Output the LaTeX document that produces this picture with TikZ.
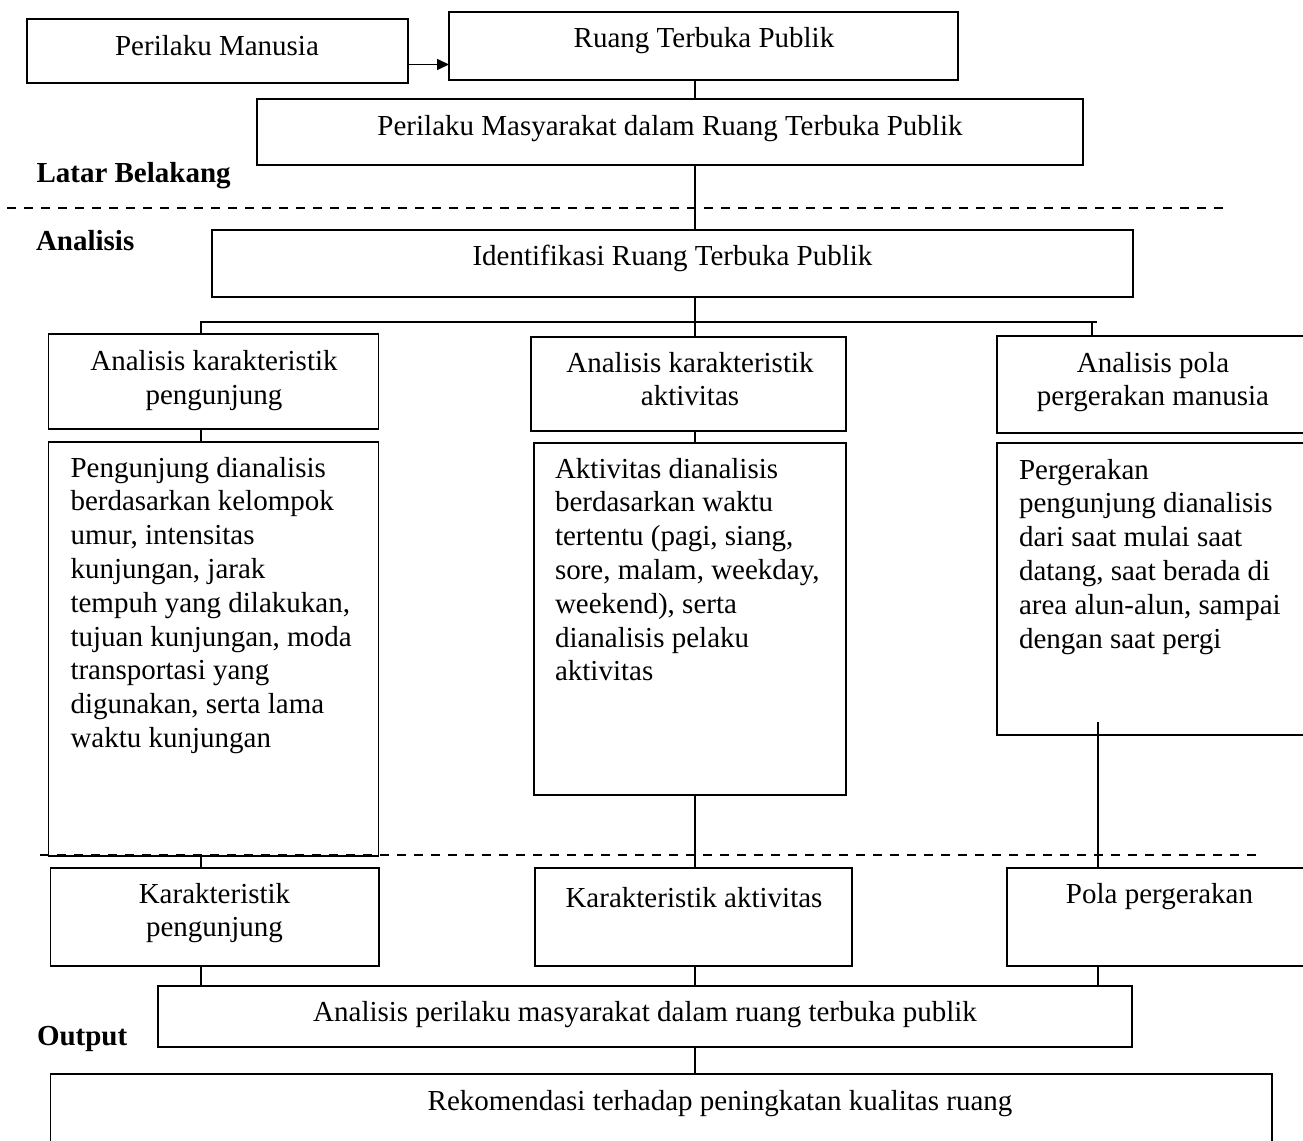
\documentclass[tikz,border=0pt]{standalone}
\usepackage{fontspec}
\setmainfont{Liberation Serif}
\usetikzlibrary{arrows.meta}
\newcommand\mybox[5]{\node[boxst, minimum width=#4pt, minimum height=#5pt, anchor=north west] (#1) at (#2,#3) {};}
\newcommand\mlc[2]{\parbox[t]{#1pt}{\centering #2}}
\newcommand\mll[2]{\parbox[t]{#1pt}{\raggedright #2}}
\begin{document}
\begin{tikzpicture}[x=1pt,y=-1pt,
  boxst/.style={draw, line width=1.8pt, rectangle, inner sep=0pt, outer sep=0pt},
  txt/.style={inner sep=0pt, outer sep=0pt, font=\fontsize{29}{33.8}\selectfont},
  lbl/.style={txt, font=\fontsize{29}{33.8}\selectfont\bfseries, anchor=base west},
  conn/.style={line width=1.6pt},
  dashln/.style={line width=1.4pt, dash pattern=on 9pt off 8pt}]
\useasboundingbox (0,0) rectangle (1303,1140);
\clip (0,0) rectangle (1303,1140);
\fill[white] (0,0) rectangle (1303,1140);

% boxes
\mybox{pm1}{27}{19}{381}{64}
\mybox{ruang}{449}{12}{509}{68}
\mybox{pmas}{257}{99}{826}{66}
\mybox{ident}{212}{230}{921}{67}
\mybox{a1}{48.5}{334}{330}{95}
\mybox{a2}{531}{337}{315}{94}
\mybox{a3}{997}{336}{313}{97}
\mybox{d1}{48.5}{442}{330}{414}
\mybox{d2}{534}{443}{312}{352}
\mybox{d3}{997}{443}{313}{292}
\mybox{k1}{50.5}{868}{328.5}{98}
\mybox{k2}{535}{868}{317}{98}
\mybox{k3}{1007}{868}{305}{98}
\mybox{ap}{158}{986}{974}{61}
\mybox{rek}{50.5}{1074}{1221.5}{90}

% texts
\node[txt, anchor=base] (tpm1) at (217,56) {Perilaku Manusia};
\node[txt, anchor=base] (truang) at (704,48) {Ruang Terbuka Publik};
\node[txt, anchor=base] (tpmas) at (670,135.5) {Perilaku Masyarakat dalam Ruang Terbuka Publik};
\node[txt, anchor=base] (tident) at (672.5,265) {Identifikasi Ruang Terbuka Publik};
\node[txt, anchor=base] (ta1) at (214,370.5) {\mlc{320}{Analisis karakteristik\\pengunjung}};
\node[txt, anchor=base] (ta2) at (690,372) {\mlc{310}{Analisis karakteristik\\aktivitas}};
\node[txt, anchor=base] (ta3) at (1153,372) {\mlc{310}{Analisis pola\\pergerakan manusia}};
\node[txt, anchor=base west] (td1) at (70.5,477) {\mll{330}{Pengunjung dianalisis\\berdasarkan kelompok\\umur, intensitas\\kunjungan, jarak\\tempuh yang dilakukan,\\tujuan kunjungan, moda\\transportasi yang\\digunakan, serta lama\\waktu kunjungan}};
\node[txt, anchor=base west] (td2) at (555,478) {\mll{330}{Aktivitas dianalisis\\berdasarkan waktu\\tertentu (pagi, siang,\\sore, malam, weekday,\\weekend), serta\\dianalisis pelaku\\aktivitas}};
\node[txt, anchor=base west] (td3) at (1019,479) {\mll{330}{Pergerakan\\pengunjung dianalisis\\dari saat mulai saat\\datang, saat berada di\\area alun-alun, sampai\\dengan saat pergi}};
\node[txt, anchor=base] (tk1) at (214.5,903) {\mlc{320}{Karakteristik\\pengunjung}};
\node[txt, anchor=base] (tk2) at (694,907.5) {Karakteristik aktivitas};
\node[txt, anchor=base] (tk3) at (1159.5,903) {Pola pergerakan};
\node[txt, anchor=base] (tap) at (645,1021.5) {Analisis perilaku masyarakat dalam ruang terbuka publik};
\node[txt, anchor=base] (trek) at (720,1110) {Rekomendasi terhadap peningkatan kualitas ruang};

% section labels
\node[lbl] (llb) at (36.5,182) {Latar Belakang};
\node[lbl] (lan) at (36,250) {Analisis};
\node[lbl] (lout) at (37,1045) {Output};

% dashed separators
\coordinate (da) at (7,208);
\coordinate (db) at (1230,208);
\coordinate (dc) at (40,855);
\coordinate (dd) at (1261,855);
\draw[dashln] (da) -- (db);
\draw[dashln] (dc) -- (dd);

% connector helper coordinates
\coordinate (xl) at (201,0);
\coordinate (xm) at (695,0);
\coordinate (xr) at (1098,0);
\coordinate (xt) at (1092,0);
\coordinate (ay) at (0,64.5);
\coordinate (by) at (0,322);
\coordinate (bre) at (1097,322);
\coordinate (rs) at (1098,722);

% connectors
\draw[conn, -{Triangle[length=12pt,width=11pt]}] (pm1.east |- ay) -- (ruang.west |- ay);
\draw[conn] (ruang.south -| xm) -- (pmas.north -| xm);
\draw[conn] (pmas.south -| xm) -- (ident.north -| xm);
\draw[conn] (ident.south -| xm) -- (a2.north -| xm);
\draw[conn] (a1.north -| xl) -- (xl |- by) -- (bre);
\draw[conn] (xt |- by) -- (a3.north -| xt);
\draw[conn] (a1.south -| xl) -- (d1.north -| xl);
\draw[conn] (a2.south -| xm) -- (d2.north -| xm);
\draw[conn] (d1.south -| xl) -- (k1.north -| xl);
\draw[conn] (d2.south -| xm) -- (k2.north -| xm);
\draw[conn] (rs) -- (k3.north -| rs);
\draw[conn] (k1.south -| xl) -- (ap.north -| xl);
\draw[conn] (k2.south -| xm) -- (ap.north -| xm);
\draw[conn] (k3.south -| xr) -- (ap.north -| xr);
\draw[conn] (ap.south -| xm) -- (rek.north -| xm);
\end{tikzpicture}
\end{document}
